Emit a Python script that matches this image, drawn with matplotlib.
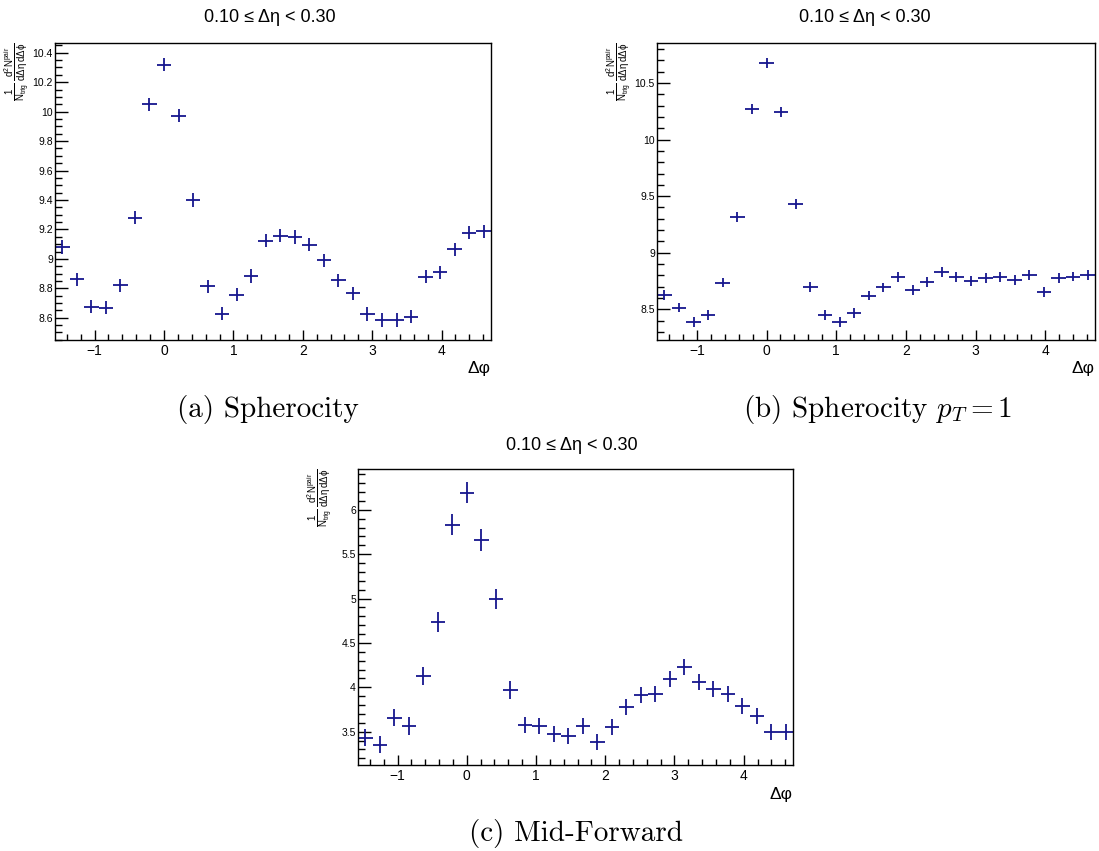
import numpy as np
import matplotlib.pyplot as plt
from matplotlib.ticker import MultipleLocator, FormatStrFormatter

plt.rcParams['font.family'] = ['Liberation Sans', 'DejaVu Sans']
plt.rcParams['mathtext.fontset'] = 'custom'
plt.rcParams['mathtext.rm'] = 'Liberation Sans'
plt.rcParams['mathtext.it'] = 'Liberation Sans:italic'
plt.rcParams['mathtext.bf'] = 'Liberation Sans:bold'

# 30 bins in delta-phi from -pi/2 to 3pi/2
edges = np.linspace(-np.pi / 2, 3 * np.pi / 2, 31)
dphi = 0.5 * (edges[1:] + edges[:-1])
half_width = 0.5 * (edges[1] - edges[0])

sph = [9.08, 8.86, 8.674, 8.668, 8.82, 9.28, 10.05, 10.318, 9.973, 9.40,
       8.814, 8.627, 8.758, 8.884, 9.123, 9.157, 9.148, 9.096, 8.99, 8.855,
       8.765, 8.625, 8.584, 8.584, 8.607, 8.88, 8.909, 9.064, 9.177, 9.188]
sph_err = [0.045] * 30

sph_pt1 = [8.628, 8.516, 8.389, 8.448, 8.737, 9.319, 10.27, 10.68, 10.247, 9.434,
           8.696, 8.454, 8.389, 8.469, 8.622, 8.693, 8.788, 8.673, 8.74, 8.826,
           8.782, 8.749, 8.773, 8.785, 8.761, 8.805, 8.649, 8.776, 8.79, 8.80]
sph_pt1_err = [0.044] * 30

midfwd = [3.434, 3.355, 3.66, 3.562, 4.128, 4.736, 5.834, 6.192, 5.66, 4.996,
          3.97, 3.574, 3.562, 3.479, 3.453, 3.566, 3.381, 3.551, 3.781, 3.909,
          3.925, 4.098, 4.234, 4.06, 3.977, 3.925, 3.789, 3.679, 3.498, 3.498]
midfwd_err = [0.10, 0.10, 0.10, 0.10, 0.10, 0.11, 0.12, 0.12, 0.12, 0.11,
              0.10, 0.09, 0.09, 0.09, 0.09, 0.09, 0.09, 0.09, 0.09, 0.09,
              0.09, 0.09, 0.09, 0.09, 0.09, 0.09, 0.09, 0.09, 0.09, 0.09]

title = '0.10 \u2264 \u0394\u03b7 < 0.30'
ylab = (r'$\frac{1}{\mathrm{N_{trig}}}\,'
        r'\frac{\mathrm{d^{2}N^{pair}}}{\mathrm{d\Delta\eta\,d\Delta\phi}}$')
col = '#16168e'

W, H = 1099, 851
fig = plt.figure(figsize=(W / 100, H / 100), dpi=100)


def panel(box, y, yerr, ylim, ymaj, ymin, title_xy, ylab_fs):
    l, t, r, b = box
    ax = fig.add_axes([l / W, 1 - b / H, (r - l) / W, (b - t) / H])
    ax.errorbar(dphi, y, yerr=yerr, xerr=half_width, fmt='none',
                ecolor=col, elinewidth=1.3, capsize=0)
    ax.set_xlim(edges[0], edges[-1])
    ax.set_ylim(*ylim)
    ax.xaxis.set_major_locator(MultipleLocator(1))
    ax.xaxis.set_minor_locator(MultipleLocator(0.2))
    ax.yaxis.set_major_locator(MultipleLocator(ymaj))
    ax.yaxis.set_minor_locator(MultipleLocator(ymin))
    ax.yaxis.set_major_formatter(FormatStrFormatter('%g'))
    ax.tick_params(axis='x', which='major', direction='in', length=7.5,
                   width=1, labelsize=10, pad=3, top=False)
    ax.tick_params(axis='x', which='minor', direction='in', length=4.2,
                   width=1, top=False)
    ax.tick_params(axis='y', which='major', direction='in', length=9.5,
                   width=1, labelsize=ylab_fs, pad=1.5, right=False)
    ax.tick_params(axis='y', which='minor', direction='in', length=5,
                   width=1, right=False)
    for s in ax.spines.values():
        s.set_linewidth(1.0)
    ax.text(1.0, -29 / (b - t), '\u0394\u03c6', transform=ax.transAxes,
            ha='right', va='center', fontsize=12.5)
    ax.text(-24 / (r - l), 1.0, ylab, transform=ax.transAxes, rotation=90,
            ha='right', va='top', fontsize=10)
    fig.text(title_xy[0] / W, 1 - title_xy[1] / H, title,
             ha='center', va='center', fontsize=13)
    return ax


panel((55, 43, 491, 340), sph, sph_err, (8.449, 10.466), 0.2, 0.05,
      (270, 18), 7.5)
panel((657, 43, 1095, 340), sph_pt1, sph_pt1_err, (8.229, 10.853), 0.5, 0.1,
      (865, 18), 7.5)
panel((358, 469, 793, 765), midfwd, midfwd_err, (3.125, 6.46), 0.5, 0.1,
      (572, 445), 7.5)

cap = dict(ha='center', va='center', fontsize=21, family='cmr10',
           math_fontfamily='cm')
fig.text(268 / W, 1 - 410 / H, '(a) Spherocity', **cap)
fig.text(878 / W, 1 - 410 / H, '(b) Spherocity $p_T = 1$', **cap)
fig.text(576 / W, 1 - 833 / H, '(c) Mid-Forward', **cap)

fig.savefig('out.png', dpi=100)
